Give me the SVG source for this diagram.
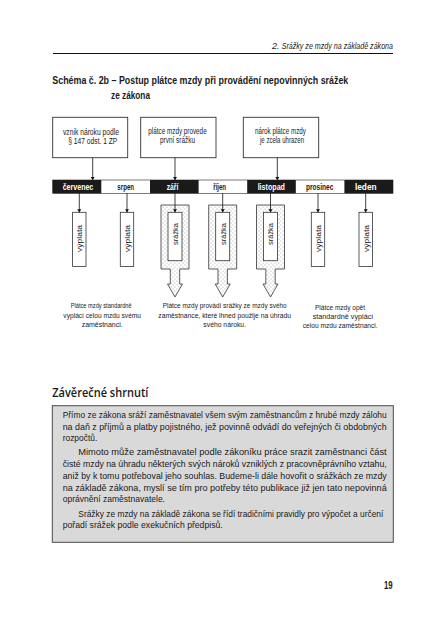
<svg xmlns="http://www.w3.org/2000/svg" width="446" height="630" viewBox="0 0 446 630">
<defs>
<pattern id="dots" width="4" height="4" patternUnits="userSpaceOnUse">
<rect width="4" height="4" fill="#ffffff"/>
<circle cx="1" cy="1" r="0.45" fill="#555"/>
<circle cx="3" cy="3" r="0.45" fill="#555"/>
</pattern>
<marker id="ah" viewBox="0 0 6 8" refX="6" refY="4" markerWidth="3.2" markerHeight="4.2" orient="auto" markerUnits="userSpaceOnUse">
<path d="M0,0 L6,4 L0,8 Z" fill="#111"/>
</marker>
<style>
text{font-family:"Liberation Sans",Arial,sans-serif;fill:#1a1a1a;}
.hdr{font-size:9px;font-style:italic;}
.ttl{font-size:10px;font-weight:bold;}
.bx{font-size:8.5px;}
.mon{font-size:8.5px;font-weight:bold;text-anchor:middle;}
.mw{fill:#ffffff;}
.vt{font-size:8px;text-anchor:middle;}
.cap{font-size:8px;text-anchor:middle;}
.body{font-size:9.5px;}
.h2{font-family:"Open Sans","Liberation Sans",sans-serif;font-size:12.5px;font-weight:600;}
.box{fill:#ffffff;stroke:#333;stroke-width:0.9;}
.col{fill:#ffffff;stroke:#333;stroke-width:0.8;}
.big{fill:url(#dots);stroke:#333;stroke-width:0.8;}
.con{stroke:#111;stroke-width:0.8;fill:none;}
</style>
</defs>
<rect width="446" height="630" fill="#ffffff"/>

<g id="header">
<text class="hdr" x="272" y="48.5">2.</text>
<text class="hdr" x="281.7" y="48.5" textLength="111.3" lengthAdjust="spacingAndGlyphs">Srážky ze mzdy na základě zákona</text>
<line x1="53" y1="53.5" x2="393" y2="53.5" stroke="#111" stroke-width="1"/>
</g>

<g id="title">
<text class="ttl" x="52.3" y="83.5" textLength="296" lengthAdjust="spacingAndGlyphs">Schéma č. 2b – Postup plátce mzdy při provádění nepovinných srážek</text>
<text class="ttl" x="111" y="98.5" textLength="39" lengthAdjust="spacingAndGlyphs">ze zákona</text>
</g>

<g id="box1">
<rect class="box" x="52.7" y="117.3" width="75" height="40.4"/>
<text class="bx" x="91" y="134.5" text-anchor="middle" textLength="56" lengthAdjust="spacingAndGlyphs">vznik nároku podle</text>
<text class="bx" x="92.8" y="143.5" text-anchor="middle" textLength="49" lengthAdjust="spacingAndGlyphs">§ 147 odst. 1 ZP</text>
</g>
<g id="box2">
<rect class="box" x="140.7" y="117.3" width="75.3" height="40.4"/>
<text class="bx" x="177.5" y="133.5" text-anchor="middle" textLength="58.3" lengthAdjust="spacingAndGlyphs">plátce mzdy provede</text>
<text class="bx" x="177.5" y="142.5" text-anchor="middle" textLength="35" lengthAdjust="spacingAndGlyphs">první srážku</text>
</g>
<g id="box3">
<rect class="box" x="243.3" y="117.3" width="75.4" height="40.4"/>
<text class="bx" x="280.5" y="133.5" text-anchor="middle" textLength="51" lengthAdjust="spacingAndGlyphs">nárok plátce mzdy</text>
<text class="bx" x="282" y="142.5" text-anchor="middle" textLength="44" lengthAdjust="spacingAndGlyphs">je zcela uhrazen</text>
</g>

<g id="months">
<rect x="52.7" y="180" width="340.3" height="13.3" fill="#ffffff" stroke="#222" stroke-width="0.6"/>
<rect x="52.7" y="180" width="48.6" height="13.3" fill="#1a1a1a"/>
<rect x="150" y="180" width="48.6" height="13.3" fill="#1a1a1a"/>
<rect x="247.2" y="180" width="48.6" height="13.3" fill="#1a1a1a"/>
<rect x="344.4" y="180" width="48.6" height="13.3" fill="#1a1a1a"/>
<text class="mon mw" x="78" y="190.3" textLength="30.6" lengthAdjust="spacingAndGlyphs">červenec</text>
<text class="mon" x="125.7" y="190.3" textLength="16.7" lengthAdjust="spacingAndGlyphs">srpen</text>
<text class="mon mw" x="172.5" y="190.3" textLength="11.7" lengthAdjust="spacingAndGlyphs">září</text>
<text class="mon" x="219.7" y="190.3" textLength="12.7" lengthAdjust="spacingAndGlyphs">říjen</text>
<text class="mon mw" x="271.3" y="190.3" textLength="27.3" lengthAdjust="spacingAndGlyphs">listopad</text>
<text class="mon" x="319.7" y="190.3" textLength="27.3" lengthAdjust="spacingAndGlyphs">prosinec</text>
<text class="mon mw" x="365.8" y="190.3" textLength="21.7" lengthAdjust="spacingAndGlyphs">leden</text>
</g>

<g id="col1">
<rect class="col" x="72.6" y="212.3" width="13.4" height="54.2"/>
<text class="vt" transform="translate(82.1,238.5) rotate(-90)" textLength="27" lengthAdjust="spacingAndGlyphs">výplata</text>
</g>
<g id="col2">
<rect class="col" x="120.3" y="212.3" width="13.4" height="54.2"/>
<text class="vt" transform="translate(129.8,238.5) rotate(-90)" textLength="27" lengthAdjust="spacingAndGlyphs">výplata</text>
</g>
<g id="col3">
<path class="big" d="M161,205 H189 V269 H179.7 V284 H182.5 L175,297 L167.5,284 H170.3 V269 H161 Z"/>
<rect class="col" x="168" y="212.3" width="14" height="48.4"/>
<text class="vt" transform="translate(177.8,234) rotate(-90)" textLength="22" lengthAdjust="spacingAndGlyphs">srážka</text>
</g>
<g id="col4">
<path class="big" d="M208.7,205 H236.7 V269 H227.4 V284 H230.2 L222.7,297 L215.2,284 H218 V269 H208.7 Z"/>
<rect class="col" x="215.7" y="212.3" width="14" height="48.4"/>
<text class="vt" transform="translate(225.5,234) rotate(-90)" textLength="22" lengthAdjust="spacingAndGlyphs">srážka</text>
</g>
<g id="col5">
<path class="big" d="M256.5,205 H284.5 V269 H275.2 V284 H278 L270.5,297 L263,284 H265.8 V269 H256.5 Z"/>
<rect class="col" x="263.5" y="212.3" width="14" height="48.4"/>
<text class="vt" transform="translate(273.3,234) rotate(-90)" textLength="22" lengthAdjust="spacingAndGlyphs">srážka</text>
</g>
<g id="col6">
<rect class="col" x="311.3" y="212.3" width="13.4" height="54.2"/>
<text class="vt" transform="translate(320.8,238.5) rotate(-90)" textLength="27" lengthAdjust="spacingAndGlyphs">výplata</text>
</g>
<g id="col7">
<rect class="col" x="359" y="212.3" width="13.4" height="54.2"/>
<text class="vt" transform="translate(368.5,238.5) rotate(-90)" textLength="27" lengthAdjust="spacingAndGlyphs">výplata</text>
</g>

<g id="connectors">
<line class="con" x1="92.7" y1="157.7" x2="92.7" y2="180" marker-end="url(#ah)"/>
<line class="con" x1="175" y1="157.7" x2="175" y2="180" marker-end="url(#ah)"/>
<line class="con" x1="277.3" y1="157.7" x2="277.3" y2="180" marker-end="url(#ah)"/>
<line class="con" x1="79.3" y1="193.3" x2="79.3" y2="212.3" marker-end="url(#ah)"/>
<line class="con" x1="127" y1="193.3" x2="127" y2="212.3" marker-end="url(#ah)"/>
<line class="con" x1="175" y1="193.3" x2="175" y2="212.3" marker-end="url(#ah)"/>
<line class="con" x1="222.7" y1="193.3" x2="222.7" y2="212.3" marker-end="url(#ah)"/>
<line class="con" x1="270.5" y1="193.3" x2="270.5" y2="212.3" marker-end="url(#ah)"/>
<line class="con" x1="318" y1="193.3" x2="318" y2="212.3" marker-end="url(#ah)"/>
<line class="con" x1="365.7" y1="193.3" x2="365.7" y2="212.3" marker-end="url(#ah)"/>
</g>

<g id="captions">
<text class="cap" x="101.2" y="308.3" textLength="61" lengthAdjust="spacingAndGlyphs">Plátce mzdy standardně</text>
<text class="cap" x="102.2" y="317.7" textLength="77.7" lengthAdjust="spacingAndGlyphs">vyplácí celou mzdu svému</text>
<text class="cap" x="102.2" y="326.9" textLength="41" lengthAdjust="spacingAndGlyphs">zaměstnanci.</text>
<text class="cap" x="224.7" y="308.3" textLength="124" lengthAdjust="spacingAndGlyphs">Plátce mzdy provádí srážky ze mzdy svého</text>
<text class="cap" x="224.7" y="317.7" textLength="132.7" lengthAdjust="spacingAndGlyphs">zaměstnance, které ihned použije na úhradu</text>
<text class="cap" x="224.7" y="326.9" textLength="42.7" lengthAdjust="spacingAndGlyphs">svého nároku.</text>
<text class="cap" x="340" y="309.8" textLength="50" lengthAdjust="spacingAndGlyphs">Plátce mzdy opět</text>
<text class="cap" x="343" y="319.2" textLength="60.7" lengthAdjust="spacingAndGlyphs">standardně vyplácí</text>
<text class="cap" x="340.2" y="328.4" textLength="75" lengthAdjust="spacingAndGlyphs">celou mzdu zaměstnanci.</text>
</g>

<g id="summary">
<text class="h2" x="52.3" y="396.5" textLength="96" lengthAdjust="spacingAndGlyphs">Závěrečné shrnutí</text>
<rect x="52.3" y="405.7" width="341" height="136.6" fill="#d9d9d9" stroke="#4a4a4a" stroke-width="1"/>
<text class="body" x="62.7" y="417.7" textLength="324" lengthAdjust="spacingAndGlyphs">Přímo ze zákona sráží zaměstnavatel všem svým zaměstnancům z hrubé mzdy zálohu</text>
<text class="body" x="62.7" y="429.5" textLength="324" lengthAdjust="spacingAndGlyphs">na daň z příjmů a platby pojistného, jež povinně odvádí do veřejných či obdobných</text>
<text class="body" x="62.7" y="441" textLength="34.6" lengthAdjust="spacingAndGlyphs">rozpočtů.</text>
<text class="body" x="78.3" y="455.3" textLength="308.4" lengthAdjust="spacingAndGlyphs">Mimoto může zaměstnavatel podle zákoníku práce srazit zaměstnanci část</text>
<text class="body" x="62.7" y="467" textLength="324" lengthAdjust="spacingAndGlyphs">čisté mzdy na úhradu některých svých nároků vzniklých z pracovněprávního vztahu,</text>
<text class="body" x="62.7" y="478.6" textLength="324" lengthAdjust="spacingAndGlyphs">aniž by k tomu potřeboval jeho souhlas. Budeme-li dále hovořit o srážkách ze mzdy</text>
<text class="body" x="62.7" y="490.6" textLength="324" lengthAdjust="spacingAndGlyphs">na základě zákona, myslí se tím pro potřeby této publikace již jen tato nepovinná</text>
<text class="body" x="62.7" y="502.4" textLength="102.3" lengthAdjust="spacingAndGlyphs">oprávnění zaměstnavatele.</text>
<text class="body" x="78.3" y="516.8" textLength="305" lengthAdjust="spacingAndGlyphs">Srážky ze mzdy na základě zákona se řídí tradičními pravidly pro výpočet a určení</text>
<text class="body" x="62.7" y="528.4" textLength="160" lengthAdjust="spacingAndGlyphs">pořadí srážek podle exekučních předpisů.</text>
</g>

<g id="page">
<text x="384" y="589" font-size="10" font-weight="bold" textLength="8.7" lengthAdjust="spacingAndGlyphs">19</text>
</g>
</svg>
